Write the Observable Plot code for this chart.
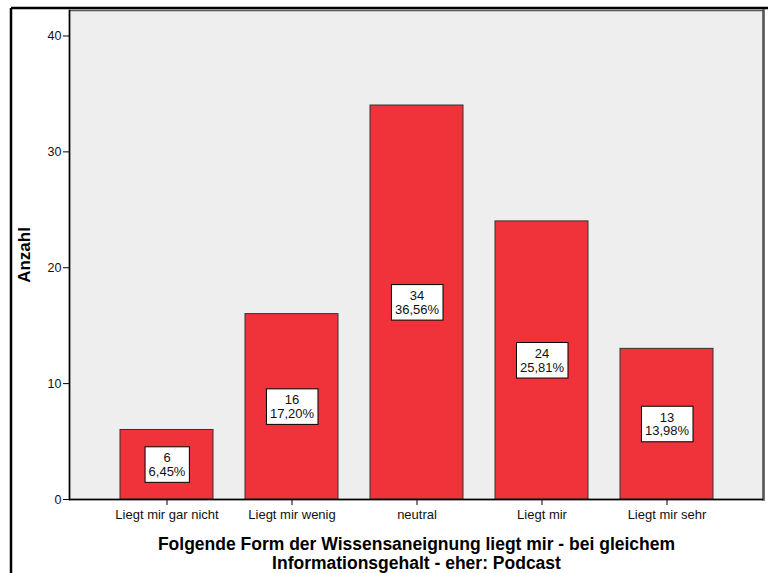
<!DOCTYPE html>
<html><head><meta charset="utf-8">
<script src="https://cdn.jsdelivr.net/npm/d3@7"></script>
<script src="https://cdn.jsdelivr.net/npm/@observablehq/plot@0.6"></script>
<style>body{margin:0;background:#fff;} #chart{width:768px;height:573px;overflow:hidden;}</style>
</head><body><div id="chart"></div>
<script>
const categories = ["Liegt mir gar nicht","Liegt mir wenig","neutral","Liegt mir","Liegt mir sehr"];
const counts = [6,16,34,24,13];
const percents = ["6,45%","17,20%","36,56%","25,81%","13,98%"];
const yTicks = [0,10,20,30,40];
const yTitle = "Anzahl";
const xTitle = "Folgende Form der Wissensaneignung liegt mir - bei gleichem\nInformationsgehalt - eher: Podcast";
const data = categories.map((c,i)=>({category:c, count:counts[i], pct:percents[i]}));
const font = "'Liberation Sans', Arial, Helvetica, sans-serif";

const plot = Plot.plot({
  width:768, height:573, marginLeft:69, marginRight:5, marginTop:10, marginBottom:74,
  style:{fontFamily:font, background:"transparent", color:"#111"},
  x:{domain:categories, paddingInner:0.256, paddingOuter:0.404, label:null},
  y:{domain:[0,42.2]},
  marks:[
    Plot.frame({fill:"#eeeeee", stroke:"#555", strokeWidth:1.5}),
    Plot.frame({anchor:"right", stroke:"#555", strokeWidth:2.5}),
    Plot.barY(data,{x:"category", y:"count", fill:"#f0333b", stroke:"#333", strokeWidth:1}),
    Plot.ruleY([0],{stroke:"#000", strokeWidth:1.5}),
    Plot.frame({anchor:"left", stroke:"#000", strokeWidth:1.5}),
    Plot.axisY({ticks:yTicks, tickSize:6, tickPadding:2, fontSize:12.5, label:yTitle, labelAnchor:"center", labelArrow:"none", labelOffset:52, stroke:"#000"}),
    Plot.axisX({tickSize:6, tickPadding:4, fontSize:13, label:null, stroke:"#000"}),
    Plot.text(data,{x:"category", y:d=>d.count/2, text:d=>`${d.count}\n${d.pct}`, fontSize:13, lineHeight:1.04, fill:"#111", className:"vlabel"}),
    Plot.text([xTitle],{frameAnchor:"bottom", lineAnchor:"middle", dy:54, text:d=>d, fontSize:17.5, fontWeight:"bold", lineHeight:1.09, fill:"#000"})
  ]
});
document.getElementById("chart").appendChild(plot);
const svg = d3.select(plot);
// bold y-axis title
svg.selectAll("g[aria-label='y-axis label'] text").attr("font-weight","bold").attr("font-size",17).attr("fill","#000");
// white boxes behind value labels
svg.selectAll("g.vlabel text").each(function(){
  const b = this.getBBox();
  const padX = 3.5, padY = 3.5;
  d3.select(this.parentNode).insert("rect", () => this)
    .attr("x", b.x - padX).attr("y", b.y - padY)
    .attr("width", b.width + 2*padX).attr("height", b.height + 2*padY)
    .attr("fill","#fff").attr("stroke","#000").attr("stroke-width",1)
    .attr("transform", this.getAttribute("transform"));
});
// outer border
svg.append("line").attr("x1",11).attr("x2",768).attr("y1",8).attr("y2",8).attr("stroke","#000").attr("stroke-width",2.5);
svg.append("line").attr("x1",11).attr("x2",11).attr("y1",8).attr("y2",573).attr("stroke","#000").attr("stroke-width",2.5);
</script>
</body></html>
